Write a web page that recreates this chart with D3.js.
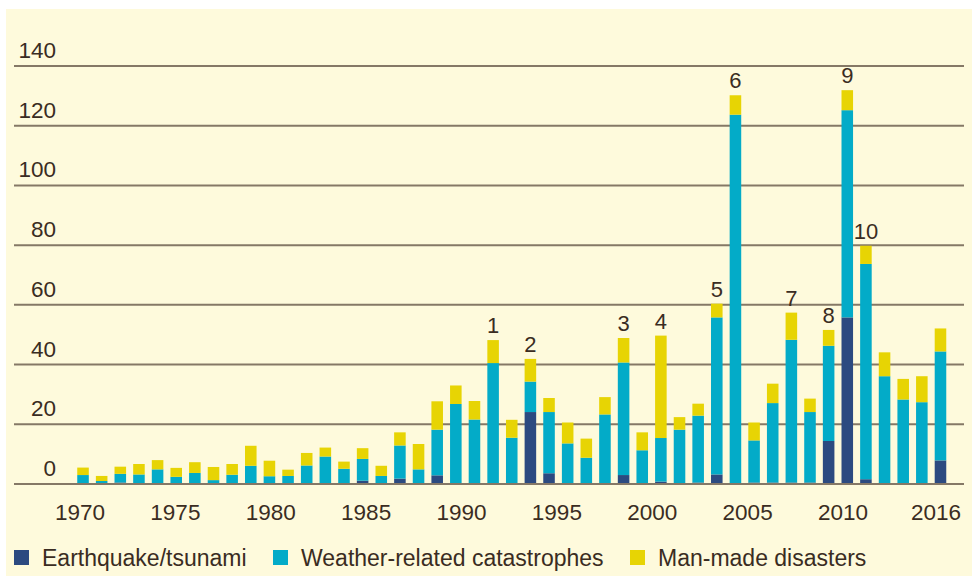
<!DOCTYPE html>
<html>
<head>
<meta charset="utf-8">
<script src="https://cdn.jsdelivr.net/npm/d3@7"></script>
<style>
  body { margin: 0; background: #fff; }
  svg text { font-family: "Liberation Sans", Arial, sans-serif; fill: #3a2c22; }
</style>
</head>
<body>
<div id="chart"></div>
<script>
var years = d3.range(1970, 2017);

// earthquake / tsunami
var quake = [0, 0, 0.5, 0, 0, 0, 0, 0, 0, 0,
             0, 0, 0, 0, 0, 1.1, 0, 1.8, 0, 2.9,
             0, 0, 0, 0, 24.1, 3.6, 0, 0, 0, 3,
             0, 0.8, 0, 0.5, 3.2, 0, 0.5, 0.5, 0.5, 0.5,
             14.4, 55.8, 1.6, 0, 0, 0, 7.9];
// weather-related catastrophes
var weather = [3, 1, 2.9, 3.2, 4.9, 2.4, 3.7, 1.3, 3.1, 6.1,
               2.6, 2.7, 6.2, 9.2, 5.1, 7.3, 2.7, 11.1, 4.9, 15.3,
               26.8, 21.6, 40.5, 15.5, 10.2, 20.5, 13.6, 8.8, 23.3, 37.7,
               11.3, 14.6, 18.2, 22.4, 52.6, 123.7, 14.1, 26.6, 47.8, 23.6,
               31.9, 69.4, 72.1, 36.1, 28.3, 27.4, 36.5];
// man-made disasters
var manmade = [2.5, 1.7, 2.4, 3.5, 3.1, 3, 3.6, 4.4, 3.6, 6.7,
               5.2, 2.1, 4.2, 3, 2.4, 3.6, 3.4, 4.4, 8.5, 9.5,
               6.2, 6.2, 7.7, 6, 7.6, 4.7, 7, 6.4, 5.8, 8.2,
               6, 34.3, 4.2, 4, 4.6, 6.5, 6, 6.5, 9.1, 4.5,
               5.3, 6.7, 6.1, 8, 6.9, 8.7, 7.7];

var seriesKeys = ["quake", "weather", "manmade"];
var seriesNames = ["Earthquake/tsunami", "Weather-related catastrophes", "Man-made disasters"];
var seriesColors = ["#2c4a80", "#03abc8", "#e7d404"];

var yTicks = [0, 20, 40, 60, 80, 100, 120, 140];
var xTickYears = [1970, 1975, 1980, 1985, 1990, 1995, 2000, 2005, 2010, 2016];

var noteYears = [1992, 1994, 1999, 2001, 2004, 2005, 2008, 2010, 2011, 2012];
var noteLabels = ["1", "2", "3", "4", "5", "6", "7", "8", "9", "10"];

var width = 972, height = 576;

var rows = years.map(function(yr, i) {
  return { year: yr, quake: quake[i], weather: weather[i], manmade: manmade[i] };
});
var stacked = d3.stack().keys(seriesKeys)(rows);

var svg = d3.select("#chart").append("svg")
  .attr("width", width)
  .attr("height", height);

svg.append("rect")
  .attr("x", 6).attr("y", 9)
  .attr("width", width - 6).attr("height", height - 9)
  .attr("fill", "#fefadc");

var x = d3.scaleBand().domain(years).range([73.7, 949.8])
  .paddingInner(0.38).paddingOuter(0.19);
var y = d3.scaleLinear().domain([0, 140]).range([484, 66]);
// year labels drift a little against the bars in the original
var xLabel = d3.scaleLinear().domain([1970, 2010, 2016]).range([80, 843, 936]);

// grid
svg.append("g").selectAll("line")
  .data(yTicks.filter(function(d) { return d > 0; }))
  .join("line")
  .attr("x1", 14).attr("x2", 964)
  .attr("y1", function(d) { return y(d); })
  .attr("y2", function(d) { return y(d); })
  .attr("stroke", "#857866")
  .attr("stroke-width", 2);

svg.append("g").selectAll("text")
  .data(yTicks)
  .join("text")
  .attr("x", 56)
  .attr("y", function(d) { return y(d) - 8; })
  .attr("text-anchor", "end")
  .style("font-size", "22.5px")
  .text(function(d) { return d; });

// bars
svg.append("g").selectAll("g")
  .data(stacked)
  .join("g")
  .attr("fill", function(d, i) { return seriesColors[i]; })
  .selectAll("rect")
  .data(function(d) { return d; })
  .join("rect")
  .attr("x", function(d) { return x(d.data.year); })
  .attr("width", x.bandwidth())
  .attr("y", function(d) { return y(d[1]); })
  .attr("height", function(d) { return y(d[0]) - y(d[1]); });

// baseline
svg.append("line")
  .attr("x1", 14).attr("x2", 964)
  .attr("y1", y(0)).attr("y2", y(0))
  .attr("stroke", "#857866")
  .attr("stroke-width", 2);

// x labels
svg.append("g").selectAll("text")
  .data(xTickYears)
  .join("text")
  .attr("x", function(d) { return xLabel(d); })
  .attr("y", 520)
  .attr("text-anchor", "middle")
  .style("font-size", "22.5px")
  .text(function(d) { return d; });

// numbered notes above bars
var totals = rows.map(function(r) { return r.quake + r.weather + r.manmade; });
svg.append("g").selectAll("text")
  .data(noteYears)
  .join("text")
  .attr("x", function(d) { return x(d) + x.bandwidth() / 2; })
  .attr("y", function(d) { return y(totals[years.indexOf(d)]) - 7; })
  .attr("text-anchor", "middle")
  .style("font-size", "22px")
  .text(function(d, i) { return noteLabels[i]; });

// legend
var legendX = [14, 273, 630];
var legend = svg.append("g").selectAll("g")
  .data(seriesNames)
  .join("g")
  .attr("transform", function(d, i) { return "translate(" + legendX[i] + ",550)"; });
legend.append("rect")
  .attr("width", 15).attr("height", 15)
  .attr("fill", function(d, i) { return seriesColors[i]; });
legend.append("text")
  .attr("x", 28).attr("y", 16)
  .style("font-size", "23px")
  .text(function(d) { return d; });
</script>
</body>
</html>
